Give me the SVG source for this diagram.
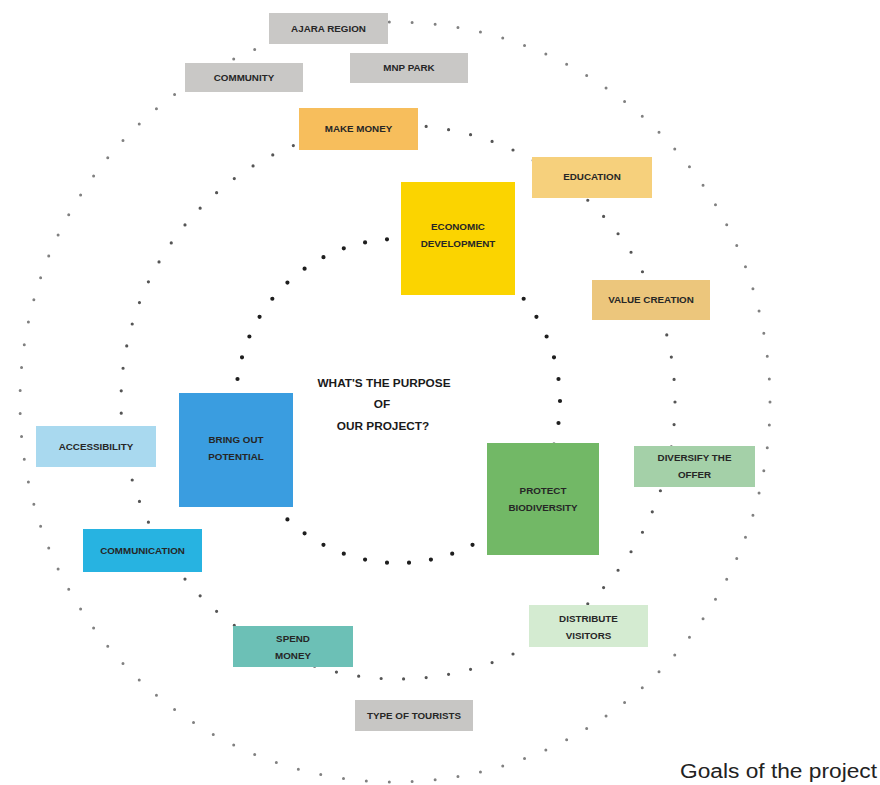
<svg xmlns="http://www.w3.org/2000/svg" width="880" height="785" viewBox="0 0 880 785">
<style>
.ring{fill:none;stroke-linecap:round;stroke-dasharray:0 1}
.lbl{font-family:"Liberation Sans",Arial,sans-serif;font-weight:bold;font-size:9.8px;fill:#262626;text-anchor:middle}
.ctr{font-family:"Liberation Sans",Arial,sans-serif;font-weight:bold;font-size:11.8px;fill:#1a1a1a;text-anchor:middle}
.cap{font-family:"Liberation Sans",Arial,sans-serif;font-size:20px;fill:#222}
</style>
<rect width="880" height="785" fill="#fff"/>
<g id="connectors">
<ellipse class="ring" cx="395" cy="402" rx="375" ry="380" stroke="#808080" stroke-width="3" pathLength="103"/>
<circle class="ring" cx="398" cy="402" r="277" stroke="#555" stroke-width="3.2" pathLength="77"/>
<circle class="ring" cx="398" cy="401" r="162" stroke="#1e1e1e" stroke-width="4.2" pathLength="46"/>
</g>
<g id="ajara"><rect x="269" y="13" width="119" height="31" fill="#c9c8c6"/><text class="lbl" x="328.5" y="32">AJARA REGION</text></g>
<g id="community"><rect x="185" y="63" width="118" height="29" fill="#c9c8c6"/><text class="lbl" x="244" y="81">COMMUNITY</text></g>
<g id="mnp"><rect x="350" y="53" width="118" height="30" fill="#c9c8c6"/><text class="lbl" x="409" y="71">MNP PARK</text></g>
<g id="makemoney"><rect x="299" y="108" width="119" height="42" fill="#f7be5c"/><text class="lbl" x="358.5" y="132">MAKE MONEY</text></g>
<g id="education"><rect x="532" y="157" width="120" height="41" fill="#f6d07c"/><text class="lbl" x="592" y="180">EDUCATION</text></g>
<g id="economic"><rect x="401" y="182" width="114" height="113" fill="#fbd400"/><text class="lbl" x="458" y="230">ECONOMIC</text><text class="lbl" x="458" y="247">DEVELOPMENT</text></g>
<g id="value"><rect x="592" y="280" width="118" height="40" fill="#ecc67c"/><text class="lbl" x="651" y="303">VALUE CREATION</text></g>
<g id="center"><text class="ctr" x="384" y="387">WHAT'S THE PURPOSE</text><text class="ctr" x="382" y="408">OF</text><text class="ctr" x="383" y="430">OUR PROJECT?</text></g>
<g id="accessibility"><rect x="36" y="426" width="120" height="41" fill="#a9d9ef"/><text class="lbl" x="96" y="450">ACCESSIBILITY</text></g>
<g id="bring"><rect x="179" y="393" width="114" height="114" fill="#3a9de0"/><text class="lbl" x="236" y="443">BRING OUT</text><text class="lbl" x="236" y="460">POTENTIAL</text></g>
<g id="communication"><rect x="83" y="529" width="119" height="43" fill="#27b3e1"/><text class="lbl" x="142.5" y="554">COMMUNICATION</text></g>
<g id="protect"><rect x="487" y="443" width="112" height="112" fill="#72b866"/><text class="lbl" x="543" y="494">PROTECT</text><text class="lbl" x="543" y="511">BIODIVERSITY</text></g>
<g id="diversify"><rect x="634" y="446" width="121" height="41" fill="#a4d0a8"/><text class="lbl" x="694.5" y="461">DIVERSIFY THE</text><text class="lbl" x="694.5" y="478">OFFER</text></g>
<g id="distribute"><rect x="529" y="605" width="119" height="42" fill="#d4ebd1"/><text class="lbl" x="588.5" y="622">DISTRIBUTE</text><text class="lbl" x="588.5" y="639">VISITORS</text></g>
<g id="spend"><rect x="233" y="626" width="120" height="41" fill="#6cc0b6"/><text class="lbl" x="293" y="642">SPEND</text><text class="lbl" x="293" y="659">MONEY</text></g>
<g id="tourists"><rect x="355" y="700" width="118" height="31" fill="#c7c6c4"/><text class="lbl" x="414" y="719">TYPE OF TOURISTS</text></g>
<text class="cap" x="680" y="778" textLength="197" lengthAdjust="spacingAndGlyphs">Goals of the project</text>
</svg>
